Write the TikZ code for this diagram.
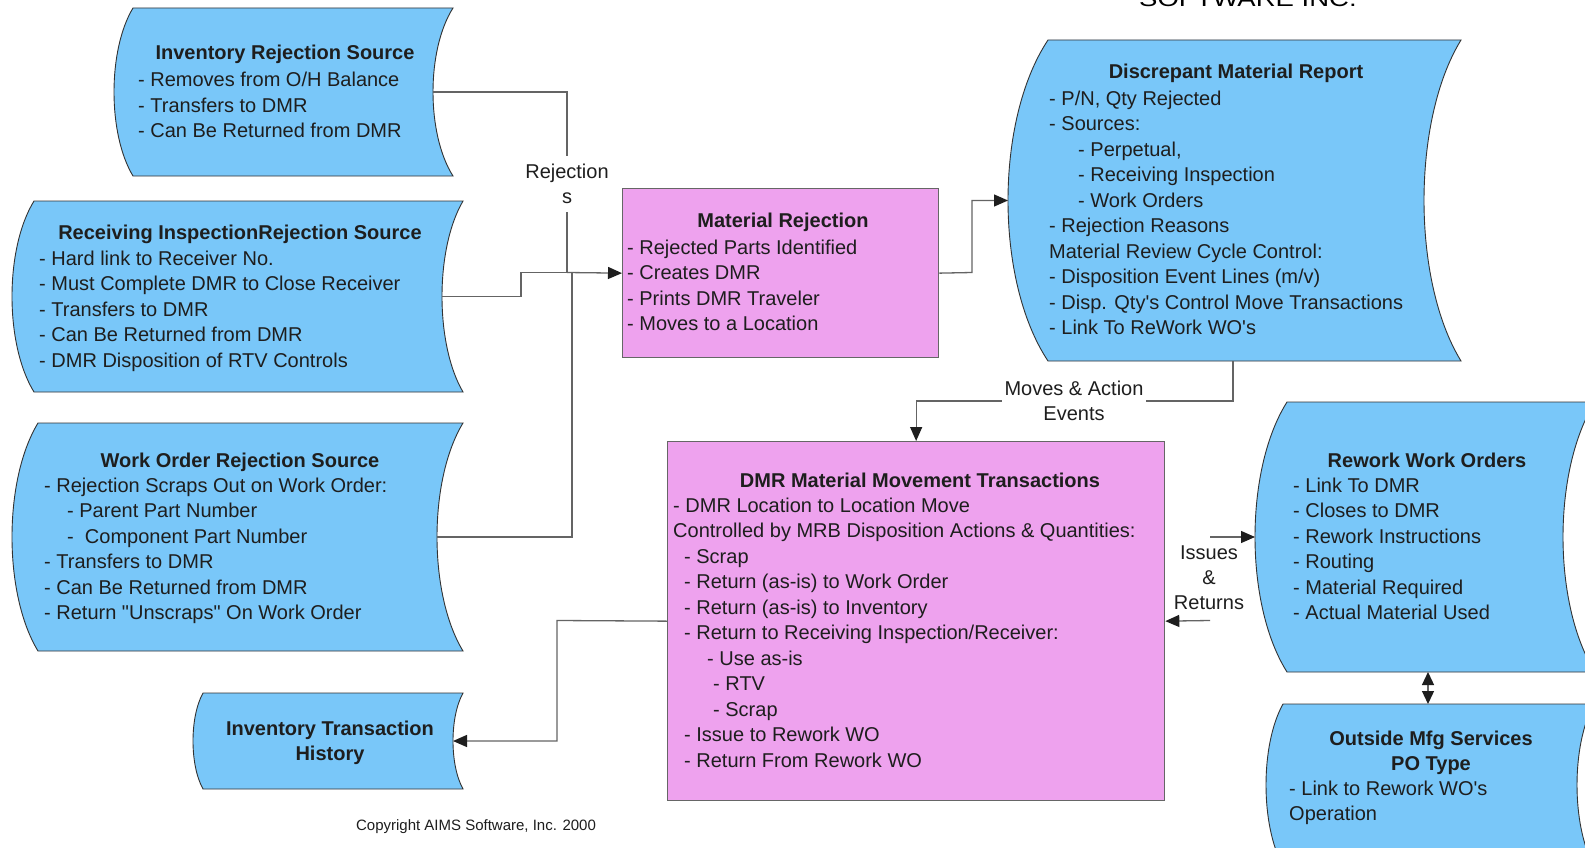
\documentclass[tikz,border=0pt]{standalone}
\usepackage{fontspec}
\setmainfont{Liberation Sans}
\newfontfamily\logofont[FakeStretch=1.25]{Liberation Sans}
\usetikzlibrary{arrows.meta}

\definecolor{shapeblue}{RGB}{121,199,249}
\definecolor{shapepink}{RGB}{238,162,238}
\definecolor{ink}{RGB}{30,30,30}
\definecolor{wirecol}{RGB}{100,100,100}

% multi-line text nodes are anchored at the baseline of their LAST line
\tikzset{
  every node/.style={text=ink},
  bodytext/.style={font=\fontsize{20}{25.5}\selectfont, align=left, anchor=base west, inner sep=0pt},
  titletext/.style={font=\fontsize{20}{25.5}\selectfont\bfseries, align=center, anchor=base, inner sep=0pt},
  flowlabel/.style={font=\fontsize{20}{25}\selectfont, align=center, inner sep=0pt},
  datashape/.style={fill=shapeblue, draw=black!80, line width=0.9pt},
  procbox/.style={fill=shapepink, draw=black!60, line width=1.3pt, inner sep=0pt, anchor=north west},
  wire/.style={draw=wirecol, line width=1.3pt},
  flow/.style={wire, -{Triangle[length=14pt,width=12pt,color=ink]}},
  twoway/.style={wire, {Triangle[length=13pt,width=12pt,color=ink]}-{Triangle[length=13pt,width=12pt,color=ink]}},
}

% stored-data outline: name, left x, right x, top y, bottom y, left bulge, right bulge
\newcommand\datashape[7]{%
  \path[datashape] (#2,#4) -- (#3,#4)
    .. controls ({#3-4/3*#7},{#4+(#5-#4)/4}) and ({#3-4/3*#7},{#5-(#5-#4)/4}) .. (#3,#5)
    -- (#2,#5)
    .. controls ({#2-4/3*#6},{#5-(#5-#4)/4}) and ({#2-4/3*#6},{#4+(#5-#4)/4}) .. cycle;
  \coordinate (#1-w) at ({#2-#6},{(#4+#5)/2});
  \coordinate (#1-e) at ({#3-#7},{(#4+#5)/2});
}
\newcommand\q{\textquotesingle}

\begin{document}
\begin{tikzpicture}[x=1pt,y=-1pt]
\useasboundingbox (0,0) rectangle (1585,848);
\begin{scope}
\clip (0,0) rectangle (1585,848);
\fill[white] (0,0) rectangle (1585,848);

% company logo text at the top edge
\node[anchor=base west, inner sep=0pt, font=\logofont\fontsize{22}{22}\selectfont, text=black] (logo) at (1139,7) {SOFTWARE INC.};

% ---------- rejection sources ----------
\datashape{invRej}{133}{453}{8}{176}{19}{20}
\node[titletext] (invRejT) at (285,60) {Inventory Rejection Source};
\node[bodytext] (invRejB) at (138,138) {- Removes from O/H Balance\\- Transfers to DMR\\- Can Be Returned from DMR};

\datashape{recRej}{34}{463}{201}{392}{22}{21}
\node[titletext] (recRejT) at (240,239) {Receiving InspectionRejection Source};
\node[bodytext] (recRejB) at (39,367) {- Hard link to Receiver No.\\- Must Complete DMR to Close Receiver\\- Transfers to DMR\\- Can Be Returned from DMR\\- DMR Disposition of RTV Controls};

\datashape{woRej}{38}{463}{423}{651}{26}{26}
\node[titletext] (woRejT) at (240,467) {Work Order Rejection Source};
\node[bodytext] (woRejB) at (44,619.5) {- Rejection Scraps Out on Work Order:\\\hspace*{23pt}- Parent Part Number\\\hspace*{23pt}- \ Component Part Number\\- Transfers to DMR\\- Can Be Returned from DMR\\- Return \textquotedbl Unscraps\textquotedbl{} On Work Order};

\datashape{invHist}{203}{463}{693}{789}{10}{10}
\node[titletext] (invHistT) at (330,760.5) {Inventory Transaction\\History};

% ---------- processing boxes ----------
\node[procbox, minimum width=316pt, minimum height=169pt] (matRej) at (622,188) {};
\node[titletext] (matRejT) at (783,227) {Material Rejection};
\node[bodytext] (matRejB) at (627,330.5) {- Rejected Parts Identified\\- Creates DMR\\- Prints DMR Traveler\\- Moves to a Location};

\node[procbox, minimum width=497pt, minimum height=359pt] (dmrMove) at (667,441) {};
\node[titletext] (dmrMoveT) at (920,487) {DMR Material Movement Transactions};
\node[bodytext] (dmrMoveB) at (673,767) {- DMR Location to Location Move\\Controlled by MRB Disposition Actions \& Quantities:\\\hspace*{11pt}- Scrap\\\hspace*{11pt}- Return (as-is) to Work Order\\\hspace*{11pt}- Return (as-is) to Inventory\\\hspace*{11pt}- Return to Receiving Inspection/Receiver:\\\hspace*{34pt}- Use as-is\\\hspace*{40pt}- RTV\\\hspace*{40pt}- Scrap\\\hspace*{11pt}- Issue to Rework WO\\\hspace*{11pt}- Return From Rework WO};

% ---------- report and rework ----------
\datashape{dmrRep}{1048}{1461}{40}{361}{40}{37}
\coordinate (dmrRep-s) at (1233,361);
\node[titletext] (dmrRepT) at (1236,79) {Discrepant Material Report};
\node[bodytext] (dmrRepB) at (1049,334.5) {- P/N, Qty Rejected\\- Sources:\\\hspace*{29pt}- Perpetual,\\\hspace*{29pt}- Receiving Inspection\\\hspace*{29pt}- Work Orders\\- Rejection Reasons\\Material Review Cycle Control:\\- Disposition Event Lines (m/v)\\- Disp. Qty\q s Control Move Transactions\\- Link To ReWork WO\q s};

\datashape{rework}{1287}{1595}{402}{672}{32}{32}
\coordinate (rework-s) at (1428,672);
\node[titletext] (reworkT) at (1427,467) {Rework Work Orders};
\node[bodytext] (reworkB) at (1293,619.5) {- Link To DMR\\- Closes to DMR\\- Rework Instructions\\- Routing\\- Material Required\\- Actual Material Used};

\datashape{outside}{1283}{1594}{704}{866}{17}{17}
\coordinate (outside-n) at (1428,704);
\node[titletext] (outsideT) at (1431,770.5) {Outside Mfg Services\\PO Type};
\node[bodytext] (outsideB) at (1289,820.5) {- Link to Rework WO\q s\\Operation};

% ---------- connectors ----------
\coordinate (merge) at (567,272.5);
\coordinate (recBend) at (521,272.5);
\coordinate (woMerge) at (572,272.5);
\draw[wire] (invRej-e) -| (merge);
\draw[wire] (recRej-e) -| (recBend) -- (merge);
\draw[wire] (woRej-e) -| (woMerge);
\draw[flow] (merge) -- (matRej.west);
\node[flowlabel, fill=white, inner xsep=2pt, inner ysep=8pt] (rejLbl) at (567,184) {Rejection\\s};

\coordinate (matTurn) at (972,272.5);
\draw[flow] (matRej.east) -- (matTurn) |- (dmrRep-w);

\coordinate (moveTurn) at (1233,401);
\draw[flow] (dmrRep-s) -- (moveTurn) -| (dmrMove.north);
\node[flowlabel, fill=white, inner xsep=3pt, inner ysep=2pt] (moveLbl) at (1074,400.5) {Moves \& Action\\Events};

\coordinate (histTurn) at (557,620.5);
\draw[flow] (dmrMove.west) -- (histTurn) |- (invHist-e);

\coordinate (issueStart) at (1210,537);
\coordinate (returnStart) at (1210,620.5);
\draw[flow] (issueStart) -- (rework-w);
\draw[flow] (returnStart) -- (dmrMove.east);
\node[flowlabel] (issueLbl) at (1209,578) {Issues\\\&\\Returns};

\draw[twoway] (rework-s) -- (outside-n);

\node[anchor=base, inner sep=0pt, font=\fontsize{15}{18}\selectfont] (copy) at (476,830) {Copyright AIMS Software, Inc. 2000};
\end{scope}
\end{tikzpicture}
\end{document}
